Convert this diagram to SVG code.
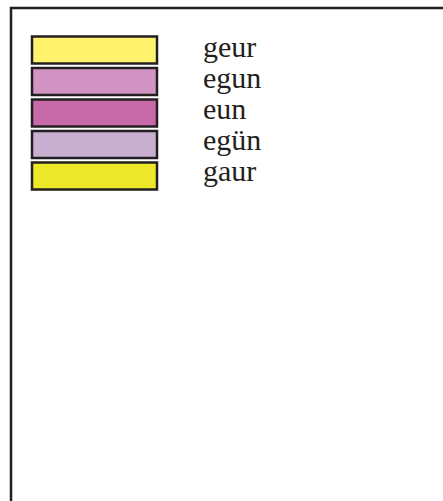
<svg xmlns="http://www.w3.org/2000/svg" width="443" height="501" viewBox="0 0 443 501">
<style>
.sw{stroke:#231F20;stroke-width:2.5}
.lb{font-family:"Liberation Serif","Times New Roman",serif;font-size:30px;fill:#231F20}
</style>
<rect width="443" height="501" fill="#fff"/>
<path d="M11,501 V8 H443" fill="none" stroke="#231F20" stroke-width="2.5"/>
<g id="geur"><rect class="sw" x="32" y="36.5" width="125" height="27" fill="#FFF36E"/><text class="lb" x="203" y="56.7">geur</text></g>
<g id="egun"><rect class="sw" x="32" y="68" width="125" height="27" fill="#D294C2"/><text class="lb" x="203" y="87.7">egun</text></g>
<g id="eun"><rect class="sw" x="32" y="99.5" width="125" height="27" fill="#C96AA8"/><text class="lb" x="203" y="118.7">eun</text></g>
<g id="egün"><rect class="sw" x="32" y="131" width="125" height="27" fill="#CAB0D0"/><text class="lb" x="203" y="149.7">egün</text></g>
<g id="gaur"><rect class="sw" x="32" y="162.5" width="125" height="27" fill="#EEE82A"/><text class="lb" x="203" y="180.7">gaur</text></g>
<g id="connectors"></g>
</svg>
